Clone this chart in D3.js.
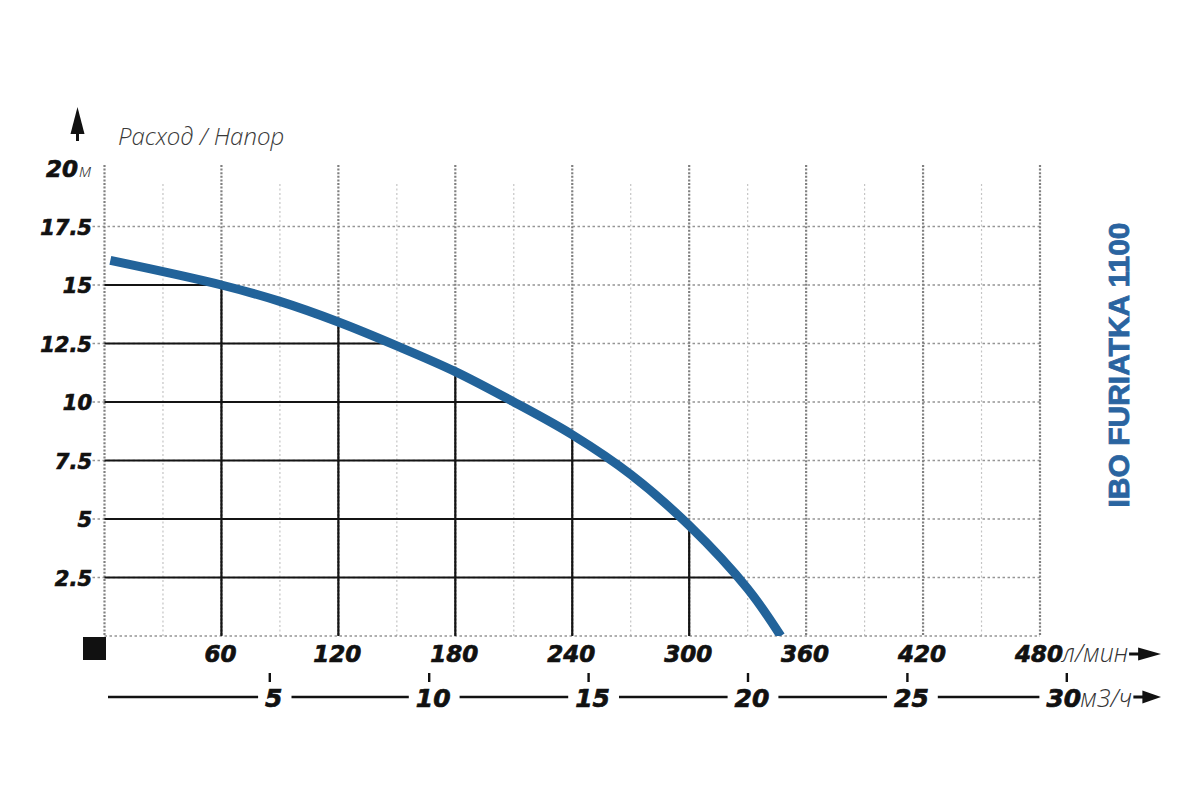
<!DOCTYPE html>
<html>
<head>
<meta charset="utf-8">
<script src="https://cdn.jsdelivr.net/npm/d3@7"></script>
<style>
  body { margin: 0; background: #fff; }
  text { font-family: "Open Sans", "Noto Sans", sans-serif; }
</style>
</head>
<body>
<div id="chart"></div>
<script>
// values
const flowTicks = [60, 120, 180, 240, 300, 360, 420, 480];     // л/мин
const flowMinor = [30, 90, 150, 210, 270, 330, 390, 450];
const headTicks = [2.5, 5, 7.5, 10, 12.5, 15, 17.5];          // м
const headTop = 20;
const m3hTicks = [5, 10, 15, 20, 25, 30];                      // м3/ч
const curveFlow = [3, 60, 90, 120, 150, 180, 210, 240, 270, 300, 330, 347];
const curveHead = [16.05, 15.0, 14.3, 13.42, 12.4, 11.3, 10.0, 8.6, 6.9, 4.72, 2.02, 0];
const dropFlow = [60, 120, 180, 240, 300];
const dropHead = [15.0, 13.42, 11.3, 8.6, 4.72];
const levelHead = [15, 12.5, 10, 7.5, 5, 2.5];
const levelFlow = [60, 149, 211, 258, 296, 326];

const width = 1200,
  height = 800;
const blue = "#22639a";
const numFont = "'DejaVu Sans', sans-serif";

const svg = d3.select("#chart").append("svg").attr("width", width).attr("height", height);

const x = d3.scaleLinear().domain([0, 480]).range([104.5, 1040]);
const y = d3.scaleLinear().domain([0, 20]).range([636, 168]);
const xm = d3.scaleLinear().domain([0, 30]).range([110.4, 1066.8]);

// grid
const grid = svg.append("g").attr("fill", "none");

grid
  .selectAll("line.minor")
  .data(flowMinor)
  .join("line")
  .attr("class", "minor")
  .attr("x1", d => x(d))
  .attr("x2", d => x(d))
  .attr("y1", y(headTop) + 16)
  .attr("y2", y(0))
  .attr("stroke", "#c4c4c4")
  .attr("stroke-width", 1.2)
  .attr("stroke-dasharray", "2,2.5");

grid
  .selectAll("line.h")
  .data(headTicks)
  .join("line")
  .attr("class", "h")
  .attr("x1", x(0) - 12)
  .attr("x2", x(480))
  .attr("y1", d => y(d))
  .attr("y2", d => y(d))
  .attr("stroke", "#959595")
  .attr("stroke-width", 1.6)
  .attr("stroke-dasharray", "2.5,2.5");

grid
  .append("line")
  .attr("x1", x(0))
  .attr("x2", x(480))
  .attr("y1", y(0))
  .attr("y2", y(0))
  .attr("stroke", "#959595")
  .attr("stroke-width", 1.6)
  .attr("stroke-dasharray", "2.5,2.5");

grid
  .selectAll("line.major")
  .data([0, ...flowTicks])
  .join("line")
  .attr("class", "major")
  .attr("x1", d => x(d))
  .attr("x2", d => x(d))
  .attr("y1", y(headTop) - 3)
  .attr("y2", y(0))
  .attr("stroke", "#808080")
  .attr("stroke-width", 2.2)
  .attr("stroke-dasharray", "2,1.6");

// black reading lines
const drops = svg.append("g").attr("stroke", "#141414").attr("stroke-width", 2.2);
drops
  .selectAll("line.v")
  .data(dropFlow)
  .join("line")
  .attr("class", "v")
  .attr("x1", d => x(d))
  .attr("x2", d => x(d))
  .attr("y1", y(0))
  .attr("y2", (d, i) => y(dropHead[i]));
drops
  .selectAll("line.hl")
  .data(levelHead)
  .join("line")
  .attr("class", "hl")
  .attr("x1", x(0))
  .attr("x2", (d, i) => x(levelFlow[i]))
  .attr("y1", d => y(d))
  .attr("y2", d => y(d));

// pump curve
svg
  .append("clipPath")
  .attr("id", "plot-clip")
  .append("rect")
  .attr("x", x(0))
  .attr("y", 0)
  .attr("width", x(480) - x(0))
  .attr("height", y(0));

const line = d3
  .line()
  .x(d => x(d[0]))
  .y(d => y(d[1]))
  .curve(d3.curveCatmullRom.alpha(0.5));

svg
  .append("path")
  .attr("d", line(curveFlow.map((f, i) => [f, curveHead[i]])))
  .attr("fill", "none")
  .attr("stroke", blue)
  .attr("stroke-width", 9)
  .attr("stroke-linecap", "butt")
  .attr("clip-path", "url(#plot-clip)");

// number style
const numStyle = sel =>
  sel
    .style("font-family", numFont)
    .attr("font-weight", 700)
    .attr("font-style", "italic")
    .attr("fill", "#111")
    .attr("stroke", "#111")
    .attr("stroke-width", 0.7);
const unitStyle = sel =>
  sel.attr("font-style", "italic").attr("font-weight", 300).attr("fill", "#333");

// y labels
svg
  .append("g")
  .selectAll("text")
  .data(headTicks)
  .join("text")
  .attr("x", 92)
  .attr("y", d => y(d) + 8)
  .attr("text-anchor", "end")
  .attr("font-size", 21)
  .call(numStyle)
  .text(d => d);

svg
  .append("text")
  .attr("x", 78)
  .attr("y", y(headTop) + 9)
  .attr("text-anchor", "end")
  .attr("font-size", 23)
  .call(numStyle)
  .text(headTop);
svg
  .append("text")
  .attr("x", 79)
  .attr("y", y(headTop) + 9)
  .attr("font-size", 19)
  .call(unitStyle)
  .text("м");

svg
  .append("text")
  .attr("x", 118)
  .attr("y", 145)
  .attr("font-size", 24)
  .call(unitStyle)
  .attr("fill", "#3a3a3a")
  .text("Расход / Напор");

// up arrow
svg
  .append("path")
  .attr("d", d3.line()([[77.5, 107], [84.5, 134], [70.5, 134]]) + "Z")
  .attr("fill", "#111");
svg.append("rect").attr("x", 76).attr("y", 132).attr("width", 3).attr("height", 9).attr("fill", "#111");

// origin square
svg.append("rect").attr("x", 83).attr("y", y(0) + 1).attr("width", 23).attr("height", 23).attr("fill", "#111");

// flow labels (л/мин)
const row1 = 662;
const flowLabels = svg
  .append("g")
  .selectAll("text")
  .data(flowTicks)
  .join("text")
  .attr("x", d => x(d) - 1)
  .attr("y", row1)
  .attr("text-anchor", "middle")
  .attr("font-size", 23)
  .call(numStyle)
  .text(d => d);

const lastFlow = flowLabels.filter((d, i) => i === flowTicks.length - 1).node().getBBox();
const unit1 = svg
  .append("text")
  .attr("x", lastFlow.x + lastFlow.width - 1)
  .attr("y", row1)
  .attr("font-size", 25)
  .call(unitStyle)
  .text("л/мин");

const arrow = (x0, yc) => {
  svg.append("rect").attr("x", x0).attr("y", yc - 1.5).attr("width", 12).attr("height", 3).attr("fill", "#111");
  svg
    .append("path")
    .attr("d", d3.line()([[x0 + 9, yc - 6.5], [1161, yc], [x0 + 9, yc + 6.5]]) + "Z")
    .attr("fill", "#111");
};
const u1 = unit1.node().getBBox();
arrow(u1.x + u1.width + 1, 654);

// m3/h axis
const row2 = 707;
const axisY = 697;
svg
  .append("g")
  .selectAll("rect")
  .data(m3hTicks)
  .join("rect")
  .attr("x", d => xm(d) - 1.2)
  .attr("y", 673)
  .attr("width", 2.4)
  .attr("height", 9)
  .attr("fill", "#111");

const m3Labels = svg
  .append("g")
  .selectAll("text")
  .data(m3hTicks)
  .join("text")
  .attr("x", (d, i) => xm(d) + (i === m3hTicks.length - 1 ? -3 : 4))
  .attr("y", row2)
  .attr("text-anchor", "middle")
  .attr("font-size", 25)
  .call(numStyle)
  .text(d => d);

const boxes = m3Labels.nodes().map(n => n.getBBox());
const lastM3 = boxes[boxes.length - 1];
const unit2 = svg
  .append("text")
  .attr("x", lastM3.x + lastM3.width - 1)
  .attr("y", row2)
  .attr("font-size", 25)
  .call(unitStyle)
  .text("м3/ч");

// axis line broken around the labels
const segs = [];
let start = 108;
boxes.forEach(b => {
  segs.push([start, b.x - 7]);
  start = b.x + b.width + 9;
});
svg
  .append("g")
  .selectAll("line")
  .data(segs)
  .join("line")
  .attr("x1", d => d[0])
  .attr("x2", d => d[1])
  .attr("y1", axisY)
  .attr("y2", axisY)
  .attr("stroke", "#111")
  .attr("stroke-width", 2.4);
const u2 = unit2.node().getBBox();
arrow(u2.x + u2.width + 1, axisY);

// model name
svg
  .append("text")
  .attr("transform", `translate(1129,365) rotate(-90)`)
  .attr("text-anchor", "middle")
  .style("font-family", "'Liberation Sans', Arial, sans-serif")
  .attr("font-weight", 700)
  .attr("font-size", 30)
  .attr("fill", "#2a64a0")
  .attr("stroke", "#2a64a0")
  .attr("stroke-width", 0.8)
  .text("IBO FURIATKA 1100");
</script>
</body>
</html>
